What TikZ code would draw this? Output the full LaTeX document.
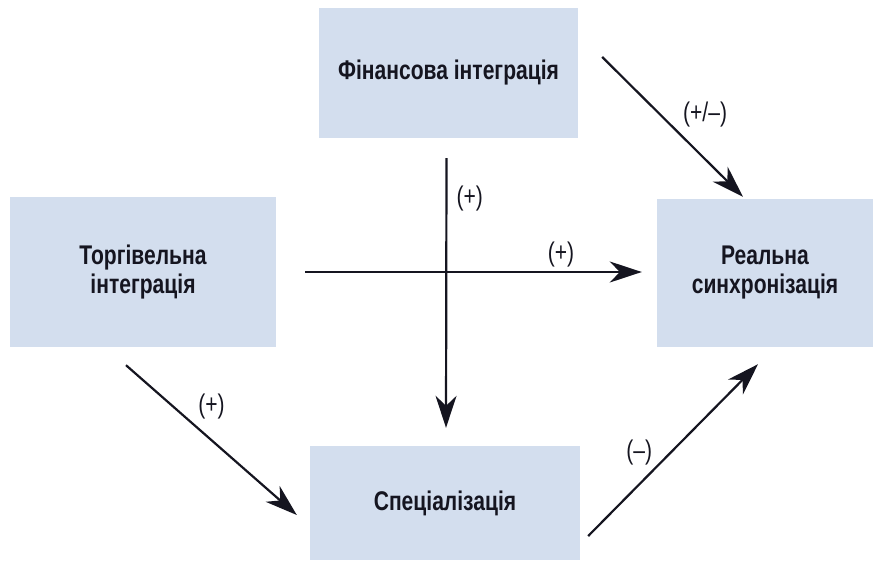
\documentclass[tikz,border=0pt]{standalone}
\usepackage{fontspec}
\setmainfont[FakeStretch=0.78]{Liberation Sans}
\usetikzlibrary{arrows.meta, positioning}
\definecolor{boxblue}{HTML}{D3DEEE}
\definecolor{ink}{HTML}{151520}

\begin{document}
\begin{tikzpicture}[x=1pt, y=-1pt,
    base/.style={rectangle, fill=boxblue, draw=none, align=center, text=ink,
      font=\fontsize{27}{29}\selectfont\bfseries},
    conn/.style={-{Stealth[length=32pt, width=21pt, inset=10pt]}, line width=2.2pt, draw=ink},
    lbl/.style={font=\fontsize{27}{29}\selectfont, text=ink, inner sep=1pt}]
    \useasboundingbox (0,0) rectangle (876,562);
    % boxes
    \node[base, minimum width=259pt, minimum height=130pt] (fin) at (448.5,73) {Фінансова інтеграція};
    \node[base, minimum width=266pt, minimum height=150pt] (trade) at (143,272) {Торгівельна\\інтеграція};
    \node[base, minimum width=216pt, minimum height=148pt] (real) at (765,273) {Реальна\\синхронізація};
    \node[base, minimum width=270pt, minimum height=114pt] (spec) at (445,503) {Спеціалізація};
    % links
    \draw[conn] ([shift={(24,-16)}]fin.east) -- node[lbl, pos=.56, above right=6pt and 0pt] (lpm) {(+/–)} ([shift={(-22,-2)}]real.north);
    \draw[conn] ([shift={(-2,20)}]fin.south) -- node[lbl, pos=.15, right=8pt] (lfs) {(+)} ([shift={(1,-18)}]spec.north);
    \draw[conn] ([shift={(29,0)}]trade.east) -- node[lbl, pos=.76, above=3pt] (ltr) {(+)} ([shift={(-15,-1)}]real.west);
    \draw[conn] ([shift={(-17,18)}]trade.south) -- node[lbl, pos=.40, above right=4pt and 2pt] (lts) {(+)} ([shift={(-13,12)}]spec.west);
    \draw[conn] ([shift={(8,33)}]spec.east) -- node[lbl, pos=.395, above left=1pt and 1pt] (lsr) {(–)} ([shift={(-7,17)}]real.south);
\end{tikzpicture}
\end{document}
